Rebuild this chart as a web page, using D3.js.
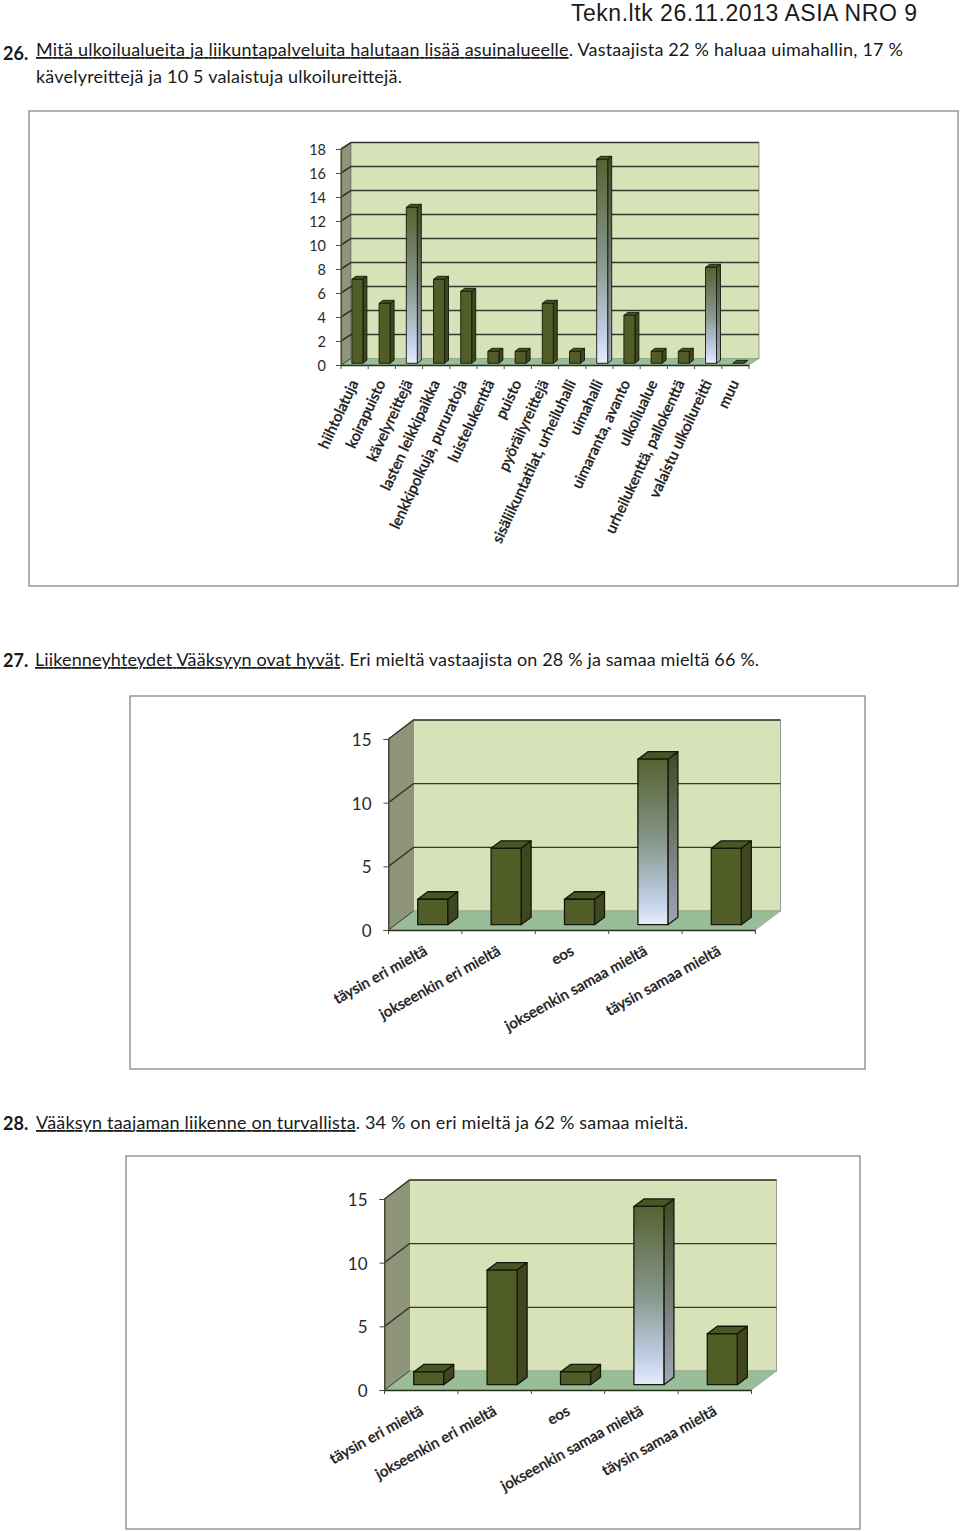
<!DOCTYPE html>
<html><head><meta charset="utf-8">
<script src="https://cdn.jsdelivr.net/npm/d3@7/dist/d3.min.js"></script>
<style>html,body{margin:0;padding:0;background:#fff}svg{display:block}text{font-family:Lato,"Open Sans",sans-serif;fill:#1a1a1a}tspan{text-decoration-skip-ink:none}</style>
</head><body><svg id="c" width="960" height="1531"></svg>
<script>
const cats1=["hiihtolatuja","koirapuisto","kävelyreittejä","lasten leikkipaikka","lenkkipolkuja, pururatoja","luistelukenttä","puisto","pyöräilyreittejä","sisäliikuntatilat, urheiluhalli","uimahalli","uimaranta, avanto","ulkoilualue","urheilukenttä, pallokenttä","valaistu ulkoilureitti","muu"];
const vals1=[7,5,13,7,6,1,1,5,1,17,4,1,1,8,0];
const hi1=["kävelyreittejä","uimahalli","valaistu ulkoilureitti"];
const ticks1=[0,2,4,6,8,10,12,14,16,18];
const cats2=["täysin eri mieltä","jokseenkin eri mieltä","eos","jokseenkin samaa mieltä","täysin samaa mieltä"];
const vals2=[2,6,2,13,6];
const vals3=[1,9,1,14,4];
const hi2=["jokseenkin samaa mieltä"];
const ticks2=[0,5,10,15];

const svg=d3.select("#c");
const defs=svg.append("defs");
const g=defs.append("linearGradient").attr("id","hi").attr("x1",0).attr("y1",0).attr("x2",0).attr("y2",1);
g.append("stop").attr("offset","0").attr("stop-color","#556230");
g.append("stop").attr("offset","0.5").attr("stop-color","#87978c");
g.append("stop").attr("offset","0.85").attr("stop-color","#c0cfe6");
g.append("stop").attr("offset","1").attr("stop-color","#e6ecfb");
const gs=defs.append("linearGradient").attr("id","his").attr("x1",0).attr("y1",0).attr("x2",0).attr("y2",1);
gs.append("stop").attr("offset","0").attr("stop-color","#3f4a22");
gs.append("stop").attr("offset","1").attr("stop-color","#a0a6bc");

function chart(o){
  const F=svg.append("g");
  F.append("rect").attr("x",o.frame[0]).attr("y",o.frame[1]).attr("width",o.frame[2]-o.frame[0]).attr("height",o.frame[3]-o.frame[1]).attr("fill","#fff").attr("stroke","#7d7d7d").attr("stroke-width",1.2);
  const x=d3.scaleBand().domain(o.cats).range([o.x0,o.x1]);
  const y=d3.scaleLinear().domain([0,o.max]).range([o.y0,o.yTop]);
  const dx=o.dx,dy=o.dy;
  F.append("path").attr("d",`M${o.x0},${o.y0}L${o.x0+dx},${o.y0-dy}L${o.x0+dx},${o.yTop-dy}L${o.x0},${o.yTop}Z`).attr("fill","#8f9579").attr("stroke","#4a4f3c");
  F.append("rect").attr("x",o.x0+dx).attr("y",o.yTop-dy).attr("width",o.x1-o.x0).attr("height",o.y0-o.yTop).attr("fill","#d8e2b8").attr("stroke","#8e9288").attr("stroke-width",.9);
  F.append("path").attr("d",`M${o.x0},${o.y0}L${o.x0+dx},${o.y0-dy}L${o.x1+dx},${o.y0-dy}L${o.x1},${o.y0}Z`).attr("fill","#98bd98").attr("stroke","#8aa88a").attr("stroke-width",.6);
  o.ticks.filter(t=>t>0).forEach(t=>{
    F.append("path").attr("d",`M${o.x0},${y(t)}L${o.x0+dx},${y(t)-dy}L${o.x1+dx},${y(t)-dy}`).attr("fill","none").attr("stroke","#34382a").attr("stroke-width",o.gw);
  });
  F.append("path").attr("d",`M${o.x0},${o.y0}L${o.x0+dx},${o.y0-dy}`).attr("stroke","#3e4238").attr("fill","none");
  const bw=o.bw, bd=o.bd, bt=o.bt;
  const base=y(0)-o.lift;
  o.cats.forEach((c,i)=>{
    const v=o.vals[i];
    const bx=x(c)+(x.bandwidth()-bw)/2+o.shift;
    const h=y(0)-y(v);
    const top=base-h;
    const hi=o.hi.includes(c);
    const gb=F.append("g").attr("stroke","#14180a").attr("stroke-width",o.sw).attr("stroke-linejoin","round");
    gb.append("path").attr("d",`M${bx+bw},${base}L${bx+bw+bd},${base-bt}L${bx+bw+bd},${top-bt}L${bx+bw},${top}Z`).attr("fill",hi?"url(#his)":"#3f4720");
    gb.append("path").attr("d",`M${bx},${top}L${bx+bd},${top-bt}L${bx+bw+bd},${top-bt}L${bx+bw},${top}Z`).attr("fill","#4a5424");
    if(h>0) gb.append("rect").attr("x",bx).attr("y",top).attr("width",bw).attr("height",h).attr("fill",hi?"url(#hi)":"#515d27");
  });
  const ax=F.append("g").attr("transform",`translate(${o.x0},0)`).call(d3.axisLeft(y).tickValues(o.ticks).tickSize(5).tickPadding(o.pad));
  ax.select(".domain").attr("stroke","#4a4a44").attr("stroke-width",1.2);
  ax.selectAll(".tick line").attr("stroke","#4a4a44");
  ax.selectAll("text").attr("dy","0.38em").style("font-family","Lato,sans-serif").style("font-size",o.fs+"px").style("fill","#2a2a2a");
  const bx=F.append("g").attr("transform",`translate(0,${o.y0})`).call(d3.axisBottom(x).tickSize(0).tickFormat(""));
  bx.select(".domain").attr("stroke","#2a3018").attr("stroke-width",1.4);
  const ed=[...o.cats.map(c=>x(c)),o.x1];
  bx.selectAll(".edge").data(ed).enter().append("line").attr("x1",d=>d).attr("x2",d=>d).attr("y1",0).attr("y2",4).attr("stroke","#4a4a44");
  o.cats.forEach(c=>{
    F.append("text").attr("transform",`translate(${x(c)+x.bandwidth()/2+o.lx},${o.y0+o.ly}) rotate(${o.rot})`).attr("text-anchor","end").attr("font-size",o.lfs).attr("font-weight",500).attr("stroke","#1a1a1a").attr("stroke-width",.35).text(c);
  });
}
chart({frame:[29,111,958,586],cats:cats1,vals:vals1,hi:hi1,ticks:ticks1,max:18,x0:341,x1:749,y0:365,yTop:149,dx:10,dy:6.5,bw:11,bd:4,bt:3,lift:1.7,shift:2.8,sw:.9,gw:1.5,pad:10,fs:14.5,lfs:15,lx:4,ly:18,rot:-65});
chart({frame:[130,696,865,1069],cats:cats2,vals:vals2,hi:hi2,ticks:ticks2,max:15,x0:388.5,x1:755.5,y0:930,yTop:739,dx:25,dy:19,bw:30,bd:10,bt:7.5,lift:5.3,shift:7.5,sw:1.3,gw:1.4,pad:12,fs:17,lfs:15,lx:3,ly:24,rot:-29});
chart({frame:[126,1156,860,1529],cats:cats2,vals:vals3,hi:hi2,ticks:ticks2,max:15,x0:384.5,x1:751.5,y0:1390,yTop:1199,dx:25,dy:19,bw:30,bd:10,bt:7.5,lift:5.3,shift:7.5,sw:1.3,gw:1.4,pad:12,fs:17,lfs:15,lx:3,ly:24,rot:-29});

const T=svg.append("g");
T.append("text").attr("x",917).attr("y",21).attr("text-anchor","end").attr("textLength",346).attr("lengthAdjust","spacing").style("font-family","'Liberation Sans',Arial,sans-serif").attr("font-size",23).text("Tekn.ltk 26.11.2013 ASIA NRO 9");
function line(x,y,parts,len){
  const t=T.append("text").attr("x",x).attr("y",y).attr("font-size",18);
  if(len) t.attr("textLength",len).attr("lengthAdjust","spacing");
  parts.forEach(p=>t.append("tspan").attr("text-decoration",p[1]?"underline":null).text(p[0]));
}
function num(x,y,s){T.append("text").attr("x",x).attr("y",y).attr("font-size",18).attr("font-weight",700).text(s);}
num(3,60,"26.");
line(36,56,[["Mitä ulkoilualueita ja liikuntapalveluita halutaan lisää asuinalueelle",1],[". Vastaajista 22 % haluaa uimahallin, 17 %",0]],867);
line(36,83,[["kävelyreittejä ja 10 5 valaistuja ulkoilureittejä.",0]],366);
num(3,667,"27.");
line(35,666,[["Liikenneyhteydet Vääksyyn ovat hyvät",1],[". Eri mieltä vastaajista on 28 % ja samaa mieltä 66 %.",0]],724);
num(3,1130,"28.");
line(36,1129,[["Vääksyn taajaman liikenne on turvallista",1],[". 34 % on eri mieltä ja 62 % samaa mieltä.",0]],652);
</script></body></html>
